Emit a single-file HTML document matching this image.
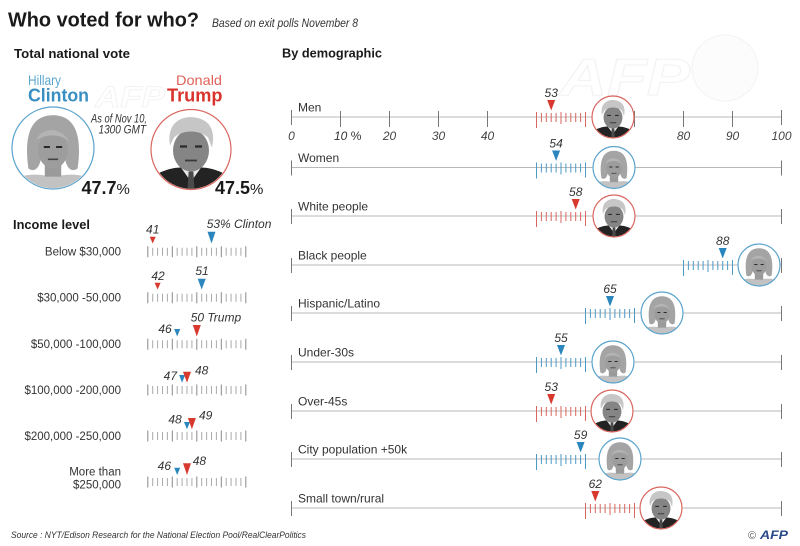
<!DOCTYPE html>
<html><head><meta charset="utf-8"><style>
html,body{margin:0;padding:0;background:#fff;}
svg{display:block;}
text{font-family:"Liberation Sans",sans-serif;}
.lab{font-size:12px;fill:#333;}
.il{font-size:11.5px;fill:#333;text-anchor:end;}
.val{font-size:12px;font-style:italic;fill:#333;text-anchor:middle;}
.vi{font-size:12px;font-style:italic;fill:#333;}
.ax{stroke:#b8b8b8;stroke-width:1;}
.et{stroke:#777;stroke-width:1;fill:none;}
.tk{font-size:12px;font-style:italic;fill:#444;text-anchor:middle;}
.rt{fill:#d8392f;}
.bt{fill:#2a86bd;}
.rc{fill:none;stroke:#d9665f;stroke-width:1.2;}
.bc{fill:none;stroke:#5aa3cc;stroke-width:1.2;}
</style></head><body>
<svg width="800" height="546" viewBox="0 0 800 546" xmlns="http://www.w3.org/2000/svg">
<defs>
  <clipPath id="fc"><circle cx="0" cy="0" r="19.6"/></clipPath>
  <symbol id="tr" viewBox="-20 -20 40 40">
    <g clip-path="url(#fc)">
      <rect x="-20" y="-20" width="40" height="40" fill="#fff"/>
      <path d="M-20,20 L-20,14 C-14,10 -8,9 -5,9 L0,16 L5,9 C8,9 14,10 20,14 L20,20Z" fill="#232323"/>
      <path d="M-5,9 L0,16 L5,9 L3,7 L-3,7Z" fill="#e8e8e8"/>
      <path d="M-1.2,11 L1.2,11 L1.7,20 L-1.7,20Z" fill="#4a4a4a"/>
      <ellipse cx="0" cy="0.5" rx="9" ry="10.5" fill="#858585"/>
      <path d="M-10.5,-2 C-12.5,-14 -4,-17 2,-16 C9,-15 12.5,-10 10.5,-1 L8.5,-6 C4,-10 -4,-10 -8.5,-6 Z" fill="#c6c6c6"/>
      <path d="M-5.5,-1.5h3.5 M2,-1.5h3.5" stroke="#2a2a2a" stroke-width="1.1"/>
      <path d="M-3,5.5h6" stroke="#3a3a3a" stroke-width="0.9"/>
    </g>
  </symbol>
  <symbol id="cl" viewBox="-20 -20 40 40">
    <g clip-path="url(#fc)">
      <rect x="-20" y="-20" width="40" height="40" fill="#fff"/>
      <path d="M-20,20 L-18,15 C-12,12 -6,13 0,14 C6,13 12,12 18,15 L20,20Z" fill="#c2c2c2"/>
      <path d="M-12,10 C-14,-4 -12,-16 0,-16 C12,-16 14,-4 12,10 C9,12 7,10 6,6 L-6,6 C-7,10 -9,12 -12,10Z" fill="#a4a4a4"/>
      <rect x="-4" y="7" width="8" height="7" fill="#9a9a9a"/>
      <ellipse cx="0" cy="1" rx="7.2" ry="9" fill="#9d9d9d"/>
      <path d="M-8,-4 C-6,-10 4,-11 8,-3 C4,-7 -3,-7 -8,-4Z" fill="#b4b4b4"/>
      <path d="M-4.5,-0.5h3 M1.5,-0.5h3" stroke="#2a2a2a" stroke-width="1"/>
      <path d="M-2.5,5.5h5" stroke="#444" stroke-width="0.8"/>
    </g>
  </symbol>
  <g id="zr" stroke="#d9665f" stroke-width="1">
    <path d="M0,-5v16 M4.9,-4v9 M9.8,-4v9 M14.7,-4v9 M19.6,-4v9 M24.5,-5v12 M29.4,-4v9 M34.3,-4v9 M39.2,-4v9 M44.1,-4v9 M49,-5v15"/>
  </g>
  <g id="zb" stroke="#4d9ac6" stroke-width="1">
    <path d="M0,-5v16 M4.9,-4v9 M9.8,-4v9 M14.7,-4v9 M19.6,-4v9 M24.5,-5v12 M29.4,-4v9 M34.3,-4v9 M39.2,-4v9 M44.1,-4v9 M49,-5v15"/>
  </g>
  <g id="it">
    <path d="M4.9,-4v8 M9.8,-4v8 M14.7,-4v8 M19.6,-4v8 M29.4,-4v8 M34.3,-4v8 M39.2,-4v8 M44.1,-4v8 M53.9,-4v8 M58.8,-4v8 M63.7,-4v8 M68.6,-4v8 M78.4,-4v8 M83.3,-4v8 M88.2,-4v8 M93.1,-4v8" stroke="#aaa" stroke-width="1"/>
    <path d="M0,-5.5v11 M24.5,-5.5v11 M49,-5.5v11 M73.5,-5.5v11 M98,-5.5v11" stroke="#888" stroke-width="1"/>
  </g>
</defs>

<!-- faint watermark -->
<circle cx="725" cy="68" r="33" fill="#fcfcfc" stroke="#f3f3f3" stroke-width="1"/>
<text x="560" y="95" font-size="52" font-weight="bold" font-style="italic" fill="none" stroke="#f2f2f2" stroke-width="1" textLength="130" lengthAdjust="spacingAndGlyphs">AFP</text>
<text x="95" y="107" font-size="30" font-weight="bold" font-style="italic" fill="none" stroke="#f3f3f3" stroke-width="1" textLength="70" lengthAdjust="spacingAndGlyphs">AFP</text>

<!-- titles -->
<text x="8" y="26.5" font-size="20" font-weight="bold" fill="#1a1a1a" textLength="191" lengthAdjust="spacingAndGlyphs">Who voted for who?</text>
<text x="212" y="27" font-size="11.5" font-style="italic" fill="#333" textLength="146" lengthAdjust="spacingAndGlyphs">Based on exit polls November 8</text>
<text x="14" y="58" font-size="13" font-weight="bold" fill="#1a1a1a" textLength="116" lengthAdjust="spacingAndGlyphs">Total national vote</text>
<text x="282" y="57.5" font-size="13" font-weight="bold" fill="#1a1a1a" textLength="100" lengthAdjust="spacingAndGlyphs">By demographic</text>

<!-- total national vote -->
<text x="28" y="85" font-size="14" fill="#5aa6cf" textLength="33" lengthAdjust="spacingAndGlyphs">Hillary</text>
<text x="28" y="101.5" font-size="18" font-weight="bold" fill="#3a8fc2" textLength="61" lengthAdjust="spacingAndGlyphs">Clinton</text>
<text x="176" y="85" font-size="14" fill="#e0625a" textLength="46" lengthAdjust="spacingAndGlyphs">Donald</text>
<text x="167" y="101.5" font-size="18" font-weight="bold" fill="#d8342c" textLength="55.5" lengthAdjust="spacingAndGlyphs">Trump</text>
<text x="91" y="122.5" font-size="11.5" font-style="italic" fill="#333" textLength="56" lengthAdjust="spacingAndGlyphs">As of Nov 10,</text>
<text x="98.5" y="133.5" font-size="11.5" font-style="italic" fill="#333" textLength="47.5" lengthAdjust="spacingAndGlyphs">1300 GMT</text>
<use href="#cl" x="12" y="107" width="82" height="82"/>
<circle cx="53" cy="148" r="41" class="bc"/>
<use href="#tr" x="151" y="109.5" width="80" height="80"/>
<circle cx="191" cy="149.5" r="40" class="rc"/>
<text x="81.5" y="194" font-size="18" font-weight="bold" fill="#1a1a1a">47.7<tspan font-size="15" font-weight="normal">%</tspan></text>
<text x="215" y="194" font-size="18" font-weight="bold" fill="#1a1a1a">47.5<tspan font-size="15" font-weight="normal">%</tspan></text>

<!-- income -->
<text x="13" y="229" font-size="13" font-weight="bold" fill="#1a1a1a" textLength="77" lengthAdjust="spacingAndGlyphs">Income level</text>

<text x="121" y="255.5" class="il">Below $30,000</text>
<use href="#it" x="147.8" y="251.7"/>
<polygon class="rt" points="149.7,236.7 155.7,236.7 152.7,243.5"/>
<polygon class="bt" points="207.5,231.7 215.5,231.7 211.5,243.5"/>
<text x="152.7" y="233.5" class="val">41</text>
<text x="206.7" y="228" class="vi">53% Clinton</text>

<text x="121" y="301.5" class="il">$30,000 -50,000</text>
<use href="#it" x="147.8" y="297.7"/>
<polygon class="rt" points="154.6,282.7 160.6,282.7 157.6,289.5"/>
<polygon class="bt" points="197.7,278.7 205.7,278.7 201.7,289.5"/>
<text x="158" y="280" class="val">42</text>
<text x="202" y="275" class="val">51</text>

<text x="121" y="348" class="il">$50,000 -100,000</text>
<use href="#it" x="147.8" y="344.3"/>
<polygon class="bt" points="174.2,329 180.2,329 177.2,336.5"/>
<polygon class="rt" points="192.8,325 200.8,325 196.8,336.5"/>
<text x="171.7" y="333" class="vi" text-anchor="end">46</text>
<text x="190.7" y="321.7" class="vi">50 Trump</text>

<text x="121" y="394" class="il">$100,000 -200,000</text>
<use href="#it" x="147.8" y="390"/>
<polygon class="bt" points="179.1,375 185.1,375 182.1,382.7"/>
<polygon class="rt" points="183,371.7 191,371.7 187,382.7"/>
<text x="177" y="380" class="vi" text-anchor="end">47</text>
<text x="195" y="374.5" class="vi">48</text>

<text x="121" y="440" class="il">$200,000 -250,000</text>
<use href="#it" x="147.8" y="436"/>
<polygon class="bt" points="184,422 190,422 187,429.3"/>
<polygon class="rt" points="187.9,418 195.9,418 191.9,429.3"/>
<text x="181.7" y="423.3" class="vi" text-anchor="end">48</text>
<text x="199" y="419.3" class="vi">49</text>

<text x="121" y="475.5" class="il">More than</text>
<text x="121" y="488.5" class="il">$250,000</text>
<use href="#it" x="147.8" y="482"/>
<polygon class="bt" points="174.2,467.7 180.2,467.7 177.2,475"/>
<polygon class="rt" points="183,463.3 191,463.3 187,475"/>
<text x="171" y="470" class="vi" text-anchor="end">46</text>
<text x="192.7" y="465" class="vi">48</text>

<!-- demographic rows -->
<text x="298" y="111.5" class="lab">Men</text>
<line x1="291.5" y1="117" x2="781.5" y2="117" class="ax"/>
<path class="et" d="M291.5,110v15 M781.5,110v15 M340.5,111v16 M389.5,111v16 M438.5,111v16 M487.5,111v16 M634.5,111v16 M683.5,111v16 M732.5,111v16"/>
<text x="291.5" y="140" class="tk">0</text>
<text x="334" y="140" class="vi" fill="#444">10<tspan font-style="normal"> %</tspan></text>
<text x="389.5" y="140" class="tk">20</text>
<text x="438.5" y="140" class="tk">30</text>
<text x="487.5" y="140" class="tk">40</text>
<text x="683.5" y="140" class="tk">80</text>
<text x="732.5" y="140" class="tk">90</text>
<text x="781.5" y="140" class="tk">100</text>
<use href="#zr" x="536.5" y="117"/>
<polygon class="rt" points="547.2,100 555.2,100 551.2,110.5"/>
<text x="551.2" y="97" class="val">53</text>
<use href="#tr" x="592" y="96" width="42" height="42"/>
<circle cx="613" cy="117" r="21" class="rc"/>

<text x="298" y="162" class="lab">Women</text>
<line x1="291.5" y1="167.5" x2="781.5" y2="167.5" class="ax"/>
<path class="et" d="M291.5,160.5v15 M781.5,160.5v15"/>
<use href="#zb" x="536.5" y="167.5"/>
<polygon class="bt" points="552.1,150.5 560.1,150.5 556.1,161"/>
<text x="556.1" y="147.5" class="val">54</text>
<use href="#cl" x="593" y="146.5" width="42" height="42"/>
<circle cx="614" cy="167.5" r="21" class="bc"/>

<text x="298" y="210.5" class="lab">White people</text>
<line x1="291.5" y1="216" x2="781.5" y2="216" class="ax"/>
<path class="et" d="M291.5,209v15 M781.5,209v15"/>
<use href="#zr" x="536.5" y="216"/>
<polygon class="rt" points="571.7,199 579.7,199 575.7,209.5"/>
<text x="575.7" y="196" class="val">58</text>
<use href="#tr" x="593" y="195" width="42" height="42"/>
<circle cx="614" cy="216" r="21" class="rc"/>

<text x="298" y="259.5" class="lab">Black people</text>
<line x1="291.5" y1="265" x2="781.5" y2="265" class="ax"/>
<path class="et" d="M291.5,258v15 M781.5,258v15"/>
<use href="#zb" x="683.5" y="265"/>
<polygon class="bt" points="718.7,248 726.7,248 722.7,258.5"/>
<text x="722.7" y="245" class="val">88</text>
<use href="#cl" x="738" y="244" width="42" height="42"/>
<circle cx="759" cy="265" r="21" class="bc"/>

<text x="298" y="307.5" class="lab">Hispanic/Latino</text>
<line x1="291.5" y1="313" x2="781.5" y2="313" class="ax"/>
<path class="et" d="M291.5,306v15 M781.5,306v15"/>
<use href="#zb" x="585.5" y="313"/>
<polygon class="bt" points="606,296 614,296 610,306.5"/>
<text x="610" y="293" class="val">65</text>
<use href="#cl" x="641" y="292" width="42" height="42"/>
<circle cx="662" cy="313" r="21" class="bc"/>

<text x="298" y="356.5" class="lab">Under-30s</text>
<line x1="291.5" y1="362" x2="781.5" y2="362" class="ax"/>
<path class="et" d="M291.5,355v15 M781.5,355v15"/>
<use href="#zb" x="536.5" y="362"/>
<polygon class="bt" points="557,345 565,345 561,355.5"/>
<text x="561" y="342" class="val">55</text>
<use href="#cl" x="592" y="341" width="42" height="42"/>
<circle cx="613" cy="362" r="21" class="bc"/>

<text x="298" y="405.5" class="lab">Over-45s</text>
<line x1="291.5" y1="411" x2="781.5" y2="411" class="ax"/>
<path class="et" d="M291.5,404v15 M781.5,404v15"/>
<use href="#zr" x="536.5" y="411"/>
<polygon class="rt" points="547.2,394 555.2,394 551.2,404.5"/>
<text x="551.2" y="391" class="val">53</text>
<use href="#tr" x="591" y="390" width="42" height="42"/>
<circle cx="612" cy="411" r="21" class="rc"/>

<text x="298" y="453.5" class="lab">City population +50k</text>
<line x1="291.5" y1="459" x2="781.5" y2="459" class="ax"/>
<path class="et" d="M291.5,452v15 M781.5,452v15"/>
<use href="#zb" x="536.5" y="459"/>
<polygon class="bt" points="576.6,442 584.6,442 580.6,452.5"/>
<text x="580.6" y="439" class="val">59</text>
<use href="#cl" x="599" y="438" width="42" height="42"/>
<circle cx="620" cy="459" r="21" class="bc"/>

<text x="298" y="502.5" class="lab">Small town/rural</text>
<line x1="291.5" y1="508" x2="781.5" y2="508" class="ax"/>
<path class="et" d="M291.5,501v15 M781.5,501v15"/>
<use href="#zr" x="585.5" y="508"/>
<polygon class="rt" points="591.3,491 599.3,491 595.3,501.5"/>
<text x="595.3" y="488" class="val">62</text>
<use href="#tr" x="640" y="487" width="42" height="42"/>
<circle cx="661" cy="508" r="21" class="rc"/>

<!-- footer -->
<text x="11" y="538" font-size="9.5" font-style="italic" fill="#333" textLength="295" lengthAdjust="spacingAndGlyphs">Source : NYT/Edison Research for the National Election Pool/RealClearPolitics</text>
<text x="748" y="539" font-size="11" fill="#555">©</text>
<text x="760" y="539" font-size="12" font-weight="bold" font-style="italic" fill="#2a4a8a" textLength="28" lengthAdjust="spacingAndGlyphs">AFP</text>
</svg>
</body></html>
